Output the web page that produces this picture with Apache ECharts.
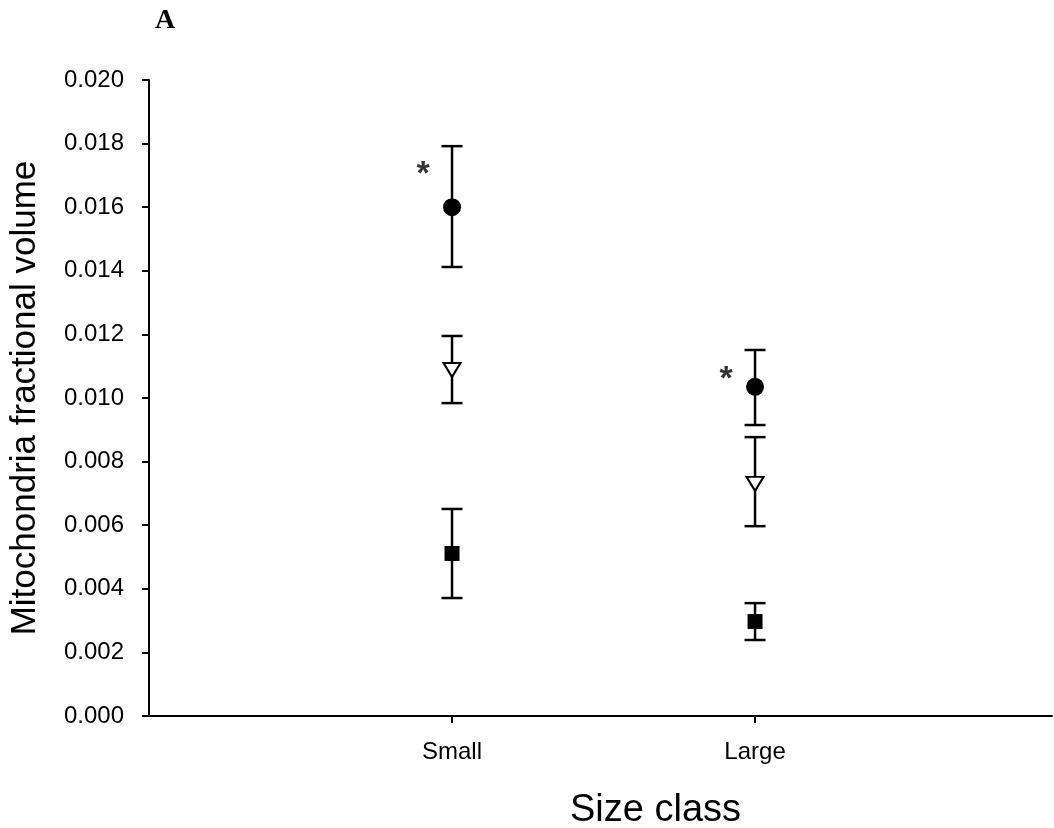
<!DOCTYPE html>
<html>
<head>
<meta charset="utf-8">
<script src="https://cdn.jsdelivr.net/npm/echarts@6/dist/echarts.min.js"></script>
<style>html,body{margin:0;padding:0;background:#fff}#c{width:1054px;height:828px}</style>
</head>
<body>
<div id="c"></div>
<script>
// Data
const categories = ['Small', 'Large'];
const categoryPos = [1, 2];
const circleMean = [0.0160, 0.01035];
const circleLow = [0.01412, 0.00915];
const circleHigh = [0.01792, 0.01151];
const triangleMean = [0.01088, 0.0073];
const triangleLow = [0.00984, 0.00597];
const triangleHigh = [0.01195, 0.00877];
const squareMean = [0.00511, 0.00297];
const squareLow = [0.00371, 0.00239];
const squareHigh = [0.00651, 0.00355];
const asteriskY = [0.01726, 0.0108];

const chart = echarts.init(document.getElementById('c'));

function errData(low, high) {
  return categoryPos.map((x, i) => [x, low[i], high[i]]);
}
function errSeries(low, high) {
  return {
    type: 'custom',
    z: 1,
    silent: true,
    data: errData(low, high),
    renderItem: function (params, api) {
      const x = api.value(0);
      const lo = api.coord([x, api.value(1)]);
      const hi = api.coord([x, api.value(2)]);
      const hw = 10.5;
      const st = { stroke: '#000', lineWidth: 2.5 };
      return {
        type: 'group',
        children: [
          { type: 'line', shape: { x1: lo[0], y1: lo[1], x2: hi[0], y2: hi[1] }, style: st },
          { type: 'line', shape: { x1: lo[0] - hw, y1: lo[1], x2: lo[0] + hw, y2: lo[1] }, style: st },
          { type: 'line', shape: { x1: hi[0] - hw, y1: hi[1], x2: hi[0] + hw, y2: hi[1] }, style: st }
        ]
      };
    }
  };
}
function pts(arr) { return categoryPos.map((x, i) => [x, arr[i]]); }

const font = 'Liberation Sans, Arial, sans-serif';

chart.setOption({
  animation: false,
  backgroundColor: '#fff',
  title: {
    text: 'A', left: 150, top: 2,
    textStyle: { fontFamily: 'Liberation Serif, Times New Roman, serif', fontWeight: 'bold', fontSize: 28, color: '#000' }
  },
  grid: { left: 149, right: 2, top: 80, bottom: 112, containLabel: false, outerBoundsMode: 'none' },
  xAxis: {
    type: 'value', min: 0, max: 2.98,
    name: 'Size class', nameLocation: 'middle', nameGap: 76,
    nameTextStyle: { fontFamily: font, fontSize: 38, color: '#000', padding: [0, 0, 0, 110] },
    axisLine: { show: true, lineStyle: { color: '#000', width: 2 } },
    axisTick: { show: true, inside: false, length: 7, lineStyle: { color: '#000', width: 2 }, customValues: categoryPos },
    axisLabel: {
      color: '#000', fontFamily: font, fontSize: 24, margin: 24,
      customValues: categoryPos,
      formatter: function (v) { const i = categoryPos.indexOf(v); return i >= 0 ? categories[i] : ''; }
    },
    splitLine: { show: false }
  },
  yAxis: {
    type: 'value', min: 0, max: 0.020, interval: 0.002,
    name: 'Mitochondria fractional volume', nameLocation: 'middle', nameGap: 106, nameRotate: 90,
    nameTextStyle: { fontFamily: font, fontSize: 35, color: '#000' },
    axisLine: { show: true, lineStyle: { color: '#000', width: 2 } },
    axisTick: { show: true, inside: false, length: 7, lineStyle: { color: '#000', width: 2 } },
    axisLabel: {
      color: '#000', fontFamily: font, fontSize: 24, margin: 25,
      formatter: function (v) { return v.toFixed(3); }
    },
    splitLine: { show: false }
  },
  series: [
    errSeries(circleLow, circleHigh),
    errSeries(triangleLow, triangleHigh),
    errSeries(squareLow, squareHigh),
    {
      type: 'scatter', z: 3, data: pts(circleMean), symbol: 'circle', symbolSize: 18,
      itemStyle: { color: '#000', opacity: 1 }
    },
    {
      type: 'scatter', z: 3, data: pts(triangleMean), symbol: 'triangle', symbolSize: [17, 14], symbolRotate: 180,
      itemStyle: { color: '#fff', borderColor: '#000', borderWidth: 2, opacity: 1 }
    },
    {
      type: 'scatter', z: 4, data: pts(squareMean), symbol: 'rect', symbolSize: 15,
      itemStyle: { color: '#000', opacity: 1 }
    },
    {
      type: 'scatter', z: 4, data: pts(asteriskY), symbol: 'circle', symbolSize: 2,
      itemStyle: { color: 'rgba(0,0,0,0)' },
      label: { show: true, formatter: '*', position: 'inside', offset: [-29, 7], fontFamily: font, fontWeight: 'bold', fontSize: 34, color: '#000' }
    }
  ]
});
</script>
</body>
</html>
